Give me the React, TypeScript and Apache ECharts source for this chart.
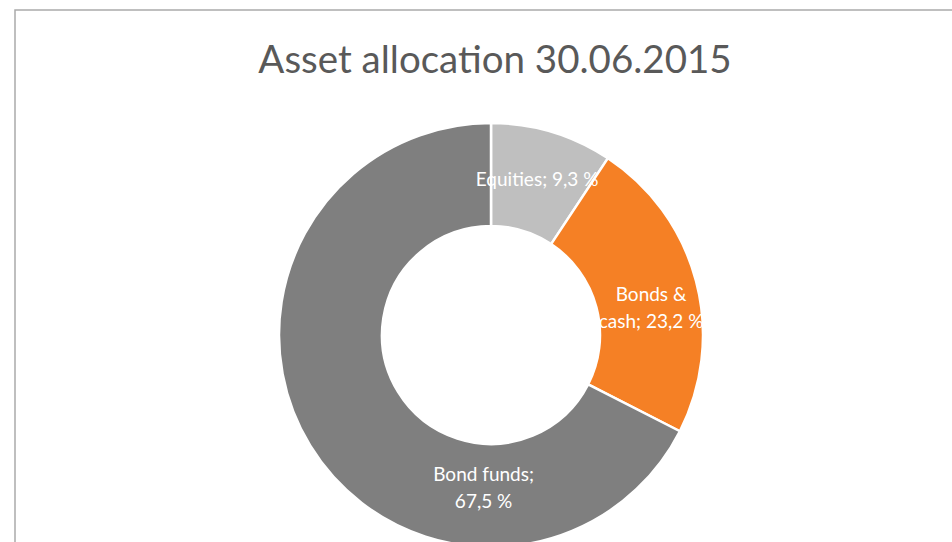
import React, { useEffect, useRef } from "react";
import * as echarts from "echarts";

const categories = ["Equities", "Bonds & cash", "Bond funds"];
const values = [9.3, 23.2, 67.5];
const colors = ["#bfbfbf", "#f58025", "#7f7f7f"];
const labelTexts = ["Equities; 9,3 %", "Bonds &\ncash; 23,2 %", "Bond funds;\n67,5 %"];
const labelOffsets = [[-1, 0], [2, 14], [132, 67]];

export default function App() {
  const ref = useRef<HTMLDivElement>(null);
  useEffect(() => {
    if (!ref.current) return;
    const chart = echarts.init(ref.current, null, { renderer: "svg" });
    chart.setOption({
      animation: false,
      backgroundColor: "#ffffff",
      title: {
        text: "Asset allocation 30.06.2015",
        left: 490,
        textAlign: "center",
        top: 33,
        textStyle: { fontFamily: "Lato", fontSize: 38.5, fontWeight: "normal", color: "#595959" },
      },
      graphic: [
        {
          type: "rect",
          shape: { x: 15, y: 10, width: 1200, height: 800 },
          style: { fill: "none", stroke: "#ababab", lineWidth: 1.5 },
          silent: true,
          z: -1,
        },
      ],
      series: [
        {
          type: "pie",
          center: [491, 335],
          radius: [109, 212],
          startAngle: 90,
          clockwise: true,
          avoidLabelOverlap: false,
          itemStyle: { borderColor: "#ffffff", borderWidth: 2.5 },
          label: {
            show: true,
            position: "inside",
            color: "#ffffff",
            fontFamily: "Lato",
            fontSize: 19,
            lineHeight: 27,
          },
          labelLine: { show: false },
          data: categories.map((c, i) => ({
            name: c,
            value: values[i],
            itemStyle: { color: colors[i] },
            label: { formatter: labelTexts[i], offset: labelOffsets[i] },
          })),
        },
      ],
    });
    return () => chart.dispose();
  }, []);
  return (
    <div
      ref={ref}
      style={{ position: "absolute", left: 0, top: 0, width: 952, height: 542 }}
    />
  );
}
